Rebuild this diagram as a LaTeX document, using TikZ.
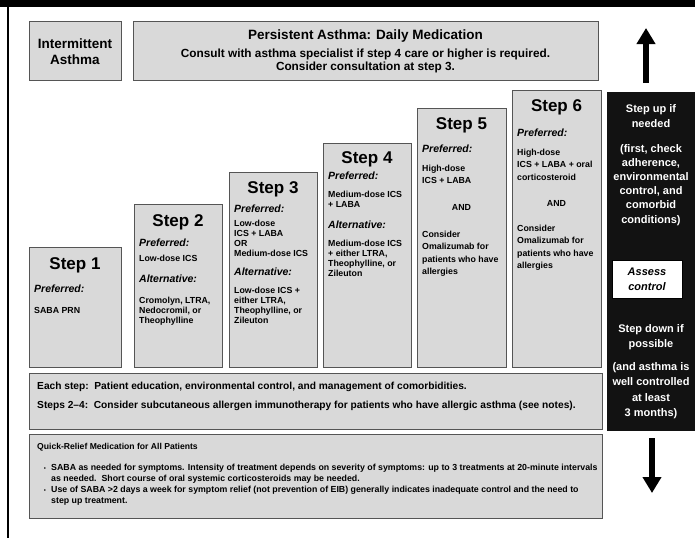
\documentclass[tikz,border=0pt]{standalone}
\usepackage{fontspec}
\setmainfont{Liberation Sans}
\usetikzlibrary{arrows.meta}
\definecolor{boxfill}{RGB}{217,217,217}
\definecolor{boxline}{RGB}{85,85,85}
\definecolor{panel}{RGB}{18,18,18}
\newcommand\gbox[5]{\node[graybox, anchor=north west, minimum width={(#4-#2)*1pt}, minimum height={(#5-#3)*1pt}] (#1) at (#2,#3) {};}
\newcommand\txtlines[6]{\foreach \t [count=\i] in {#6} {\node[#2] (#1\i) at (#3, {#4+(\i-1)*#5}) {\t};}}
\begin{document}
\begin{tikzpicture}[x=1pt,y=-1pt,
  graybox/.style={draw=boxline, fill=boxfill, line width=1.3pt, inner sep=0pt},
  hdr/.style={anchor=base, inner sep=0pt, font=\fontsize{17}{20}\selectfont\bfseries},
  pref/.style={anchor=base west, inner sep=0pt, font=\fontsize{10.5}{12}\selectfont\bfseries\itshape},
  body/.style={anchor=base west, inner sep=0pt, font=\fontsize{8.8}{10}\selectfont\bfseries},
  bodyc/.style={body, anchor=base},
  wtxt/.style={anchor=base, inner sep=0pt, text=white, font=\fontsize{11}{13}\selectfont\bfseries},
  ttl/.style={anchor=base, inner sep=0pt, font=\fontsize{13.5}{16}\selectfont\bfseries},
  sub/.style={anchor=base, inner sep=0pt, font=\fontsize{11.8}{13}\selectfont\bfseries},
  note/.style={anchor=base west, inner sep=0pt, font=\fontsize{10.2}{12}\selectfont\bfseries},
  qrt/.style={anchor=base west, inner sep=0pt, font=\fontsize{8.6}{10}\selectfont\bfseries},
  qr/.style={anchor=base west, inner sep=0pt, font=\fontsize{8.8}{10}\selectfont\bfseries},
  bul/.style={anchor=base, inner sep=0pt, font=\fontsize{6}{6}\selectfont},
  bigarrow/.style={line width=6pt, -{Triangle[width=18pt,length=16pt]}}
]
\useasboundingbox (0,0) rectangle (695,538);
\fill[white] (0,0) rectangle (695,538);
\fill[black] (0,0) rectangle (695,7);
\draw[line width=1.8pt] (8,7) -- (8,538);

% top boxes
\gbox{inter}{29}{21}{121}{80}
\node[ttl] (intera) at (75,48) {Intermittent};
\node[ttl] (interb) at (75,64) {Asthma};
\gbox{pers}{133}{21}{598}{80}
\node[ttl] (persa) at (365.5,39) {Persistent Asthma: Daily Medication};
\node[sub] (persb) at (365.5,57) {Consult with asthma specialist if step 4 care or higher is required.};
\node[sub] (persc) at (365.5,70) {Consider consultation at step 3.};

% arrows
\coordinate (upbase) at (646,83);
\coordinate (uptip) at (646,28);
\draw[bigarrow] (upbase) -- (uptip);
\coordinate (dnbase) at (652,438);
\coordinate (dntip) at (652,493);
\draw[bigarrow] (dnbase) -- (dntip);

% step 1
\gbox{s1}{29}{247}{121}{367}
\node[hdr] (h1) at (75,269) {Step 1};
\node[pref] (p1) at (34,292) {Preferred:};
\node[body] (b1) at (34,313) {SABA PRN};

% step 2
\gbox{s2}{134}{204}{222}{367}
\node[hdr] (h2) at (178,226) {Step 2};
\node[pref] (p2) at (139,246) {Preferred:};
\node[body] (b2) at (139,261) {Low-dose ICS};
\node[pref] (a2) at (139,282) {Alternative:};
\txtlines{c2}{body}{139}{303}{10}{{Cromolyn, LTRA,},{Nedocromil, or},{Theophylline}}

% step 3
\gbox{s3}{229}{172}{317}{367}
\node[hdr] (h3) at (273,193) {Step 3};
\node[pref] (p3) at (234,212) {Preferred:};
\txtlines{b3}{body}{234}{226}{10}{{Low-dose},{ICS + LABA},{OR},{Medium-dose ICS}}
\node[pref] (a3) at (234,275) {Alternative:};
\txtlines{c3}{body}{234}{293}{10}{{Low-dose ICS +},{either LTRA,},{Theophylline, or},{Zileuton}}

% step 4
\gbox{s4}{323}{143}{411}{367}
\node[hdr] (h4) at (367,163) {Step 4};
\node[pref] (p4) at (328,179) {Preferred:};
\txtlines{b4}{body}{328}{197}{10}{{Medium-dose ICS},{+ LABA}}
\node[pref] (a4) at (328,228) {Alternative:};
\txtlines{c4}{body}{328}{246}{10}{{Medium-dose ICS},{+ either LTRA,},{Theophylline, or},{Zileuton}}

% step 5
\gbox{s5}{417}{108}{506}{367}
\node[hdr] (h5) at (461.5,129) {Step 5};
\node[pref] (p5) at (422,152) {Preferred:};
\txtlines{b5}{body}{422}{171}{12.5}{{High-dose},{ICS + LABA}}
\node[bodyc] (and5) at (461.5,210) {AND};
\txtlines{c5}{body}{422}{237}{12.5}{{Consider},{Omalizumab for},{patients who have},{allergies}}

% step 6
\gbox{s6}{512}{90}{601}{367}
\node[hdr] (h6) at (556.5,111) {Step 6};
\node[pref] (p6) at (517,136) {Preferred:};
\txtlines{b6}{body}{517}{155}{12.5}{{High-dose},{ICS + LABA + oral},{corticosteroid}}
\node[bodyc] (and6) at (556.5,206) {AND};
\txtlines{c6}{body}{517}{231}{12.5}{{Consider},{Omalizumab for},{patients who have},{allergies}}

% right panel
\node[fill=panel, anchor=north west, minimum width=88pt, minimum height=339pt, inner sep=0pt] (panelbox) at (607,92) {};
\txtlines{wu}{wtxt}{651}{112}{15}{{Step up if},{needed}}
\txtlines{wf}{wtxt}{651}{152}{14.2}{{(first, check},{adherence,},{environmental},{control, and},{comorbid},{conditions)}}
\node[fill=white, draw=black, line width=0.8pt, anchor=north west, minimum width=70pt, minimum height=38pt, inner sep=0pt] (assess) at (612,260) {};
\node[anchor=base, inner sep=0pt, font=\fontsize{11}{13}\selectfont\bfseries\itshape] (assa) at (647,275) {Assess};
\node[anchor=base, inner sep=0pt, font=\fontsize{11}{13}\selectfont\bfseries\itshape] (assb) at (647,290) {control};
\txtlines{wd}{wtxt}{651}{332}{15}{{Step down if},{possible}}
\txtlines{wa}{wtxt}{651}{370}{15.5}{{(and asthma is},{well controlled},{at least},{3 months)}}

% each step box
\gbox{each}{29}{373}{602}{429}
\node[note] (eacha) at (37,389) {Each step:\ \ Patient education, environmental control, and management of comorbidities.};
\node[note] (eachb) at (37,408) {Steps 2--4:\ \ Consider subcutaneous allergen immunotherapy for patients who have allergic asthma (see notes).};

% quick relief box
\gbox{quick}{29}{434}{602}{518}
\node[qrt] (qt) at (37,449) {Quick-Relief Medication for All Patients};
\node[bul] (bul1) at (45,470) {•};
\node[bul] (bul2) at (45,492.5) {•};
\node[qr] (q1) at (51,470) {SABA as needed for symptoms. Intensity of treatment depends on severity of symptoms: up to 3 treatments at 20-minute intervals};
\node[qr] (q2) at (51,481) {as needed.\ \ Short course of oral systemic corticosteroids may be needed.};
\node[qr] (q3) at (51,492.5) {Use of SABA >2 days a week for symptom relief (not prevention of EIB) generally indicates inadequate control and the need to};
\node[qr] (q4) at (51,503.5) {step up treatment.};
\end{tikzpicture}
\end{document}
